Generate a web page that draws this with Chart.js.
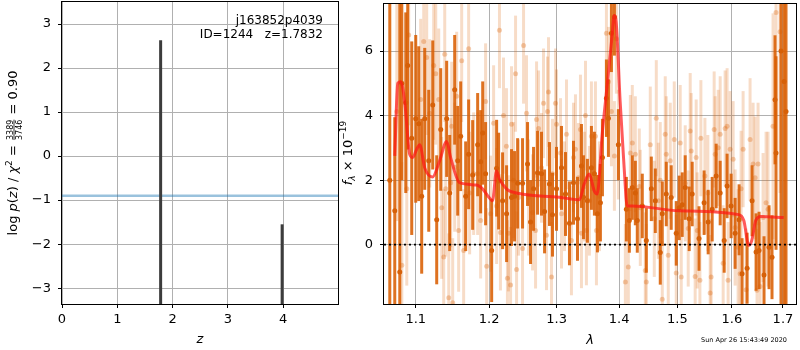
<!DOCTYPE html>
<html>
<head>
<meta charset="utf-8">
<script src="https://cdn.jsdelivr.net/npm/chart.js@4"></script>
<style>
  html, body { margin:0; padding:0; background:#fff; }
  #wrap { position:relative; width:800px; height:350px; }
  canvas { position:absolute; top:0; }
  #pz { left:0; }
  #sp { left:330px; }
</style>
</head>
<body>
<div id="wrap">
  <canvas id="pz" width="345" height="350"></canvas>
  <canvas id="sp" width="470" height="350"></canvas>
</div>
<script>
/* =============================================================
   p(z) panel + 1D spectrum panel
   ============================================================= */

/* ── p(z) DATA ─────────────────────────────────────────────── */
const pzRedshift = [1.7832, 3.98];
const pzLogP     = [2.63, -1.55];
const chi2Level  = -0.9;
const pzTicksX   = [0, 1, 2, 3, 4];
const pzTicksY   = [-3, -2, -1, 0, 1, 2, 3];

/* ── SPECTRUM DATA (micron, 1e-19 flux) ────────────────────── */
// strong grism points
const darkWave = [
  1.0667,1.0730,1.0794,1.0820,1.0871,1.0896,1.0948,1.1000,1.1039,1.1078,
  1.1118,1.1171,1.1224,1.1277,1.1331,1.1411,1.1452,1.1520,1.1561,1.1602,
  1.1671,1.1712,1.1768,1.1838,1.1880,1.1909,1.1950,1.2036,1.2107,1.2136,
  1.2193,1.2251,1.2323,1.2367,1.2412,1.2485,1.2559,1.2604,1.2649,1.2709,
  1.2769,1.2815,1.2890,1.2936,1.2998,1.3075,1.3137,1.3199,1.3262,1.3325,
  1.3388,1.3420,1.3483,1.3547,1.3595,1.3644,1.3692,1.3725,1.3790,1.3823,
  1.3872,1.3921,1.3987,1.4120,1.4170,1.4220,1.4271,1.4304,1.4389,1.4458,
  1.4544,1.4613,1.4699,1.4734,1.4804,1.4891,1.4980,1.5033,1.5087,1.5140,
  1.5212,1.5266,1.5390,1.5483,1.5558,1.5632,1.5706,1.5781,1.5856,1.5911,
  1.5987,1.6063,1.6139,1.6196,1.6293,1.6389,1.6467,1.6525,1.6623,1.6722,
  1.6781,1.6841,1.6861,1.6961,1.7022,1.7062
];
const darkFlux = [
  2.0,1.05,-0.85,5.0,4.4,5.55,3.3,3.9,3.75,1.5,
  3.9,2.6,4.33,0.77,3.57,3.9,1.6,4.8,2.6,3.36,
  1.5,2.8,2.16,3.1,2.57,3.46,2.2,-0.18,2.37,1.97,
  1.36,0.96,1.46,1.5,1.9,1.9,2.5,0.7,1.73,2.23,
  2.2,1.03,1.88,0.93,1.73,2.38,1.57,0.66,1.92,0.8,
  2.44,1.47,1.36,2.38,2.2,0.96,1.3,2.7,4.54,3.92,
  6.55,7.06,3.1,1.1,0.75,1.77,1.6,0.75,1.2,0.13,
  1.73,1.36,-0.24,0.96,1.57,1.46,0.35,1.14,1.24,1.77,
  0.8,1.57,0.19,1.3,0.7,1.1,2.13,1.6,0.13,1.82,
  1.2,0.35,0.77,-0.9,-0.73,1.36,-0.23,-0.18,-0.94,-0.08,
  -0.39,4.49,2.84,6.0,5.06,4.13
];
const darkErr = [
  10,2.9,9,3.0,2.8,2.6,3.0,2.6,2.4,2.4,
  2.2,2.2,2.0,2.0,1.9,1.8,1.8,1.7,1.7,1.7,
  1.7,1.7,1.7,1.6,1.6,1.6,1.6,1.6,1.5,1.5,
  1.5,1.5,1.5,1.4,1.4,1.4,1.3,1.3,1.3,1.3,
  1.3,1.3,1.3,1.3,1.3,1.3,1.3,1.3,1.3,1.3,
  1.3,1.3,1.3,1.3,1.3,1.2,1.2,1.2,1.2,1.2,
  1.2,1.2,1.1,1.0,1.0,1.0,1.0,1.0,1.0,1.0,
  1.0,1.0,1.0,1.0,1.0,1.0,1.0,1.0,1.0,1.0,
  1.0,1.0,1.0,1.0,1.0,1.0,1.0,1.0,1.0,1.0,
  1.0,1.1,1.1,1.1,1.1,1.1,1.2,1.2,1.2,1.3,
  1.3,2.0,3.0,8,10,6
];

// weak grism points
const lightWave = [
  1.0756,1.0820,1.0884,1.0909,1.1065,1.1105,1.1144,1.1184,1.1237,1.1264,
  1.1304,1.1344,1.1371,1.1385,1.1398,1.1439,1.1466,1.1479,1.1493,1.1520,
  1.1547,1.1574,1.1616,1.1643,1.1712,1.1726,1.1782,1.1838,1.1880,1.1950,
  1.1965,1.2021,1.2064,1.2107,1.2148,1.2162,1.2206,1.2249,1.2263,1.2278,
  1.2309,1.2323,1.2353,1.2382,1.2397,1.2426,1.2485,1.2500,1.2544,1.2574,
  1.2634,1.2679,1.2694,1.2724,1.2769,1.2799,1.2845,1.2860,1.2875,1.2921,
  1.2936,1.2982,1.2998,1.3060,1.3075,1.3122,1.3153,1.3230,1.3262,1.3293,
  1.3340,1.3372,1.3388,1.3436,1.3452,1.3467,1.3515,1.3547,1.3612,1.3628,
  1.3676,1.3790,1.3823,1.3872,1.3921,1.3954,1.3987,1.4103,1.4153,1.4187,
  1.4220,1.4271,1.4338,1.4355,1.4440,1.4458,1.4526,1.4595,1.4630,1.4665,
  1.4699,1.4734,1.4786,1.4804,1.4839,1.4874,1.4945,1.4980,1.5051,1.5069,
  1.5140,1.5194,1.5230,1.5248,1.5320,1.5338,1.5357,1.5406,1.5424,1.5498,
  1.5552,1.5595,1.5613,1.5669,1.5688,1.5744,1.5781,1.5837,1.5874,1.5911,
  1.5930,1.5968,1.6025,1.6063,1.6120,1.6158,1.6177,1.6216,1.6273,1.6350,
  1.6409,1.6448,1.6486,1.6506,1.6545,1.6604,1.6663,1.6702,1.6801,1.6861,
  1.6941
];
const lightFlux = [
  4.13,-0.64,1.73,6.5,4.5,6.3,5.8,4.07,5.55,5.3,
  4.5,1.14,-0.38,5.9,1.73,-1.65,1.92,3.67,-1.8,2.4,
  4.6,0.44,5.7,-0.18,6.07,1.6,2.2,2.2,0.75,4.44,
  -0.67,0.96,3.76,1.2,6.65,0.38,4.0,3.05,-1.04,0.35,
  -1.25,3.73,2.0,5.3,-0.77,1.46,-0.12,6.17,4.07,1.46,
  1.0,0.44,3.88,3.6,2.38,4.38,0.29,4.13,4.73,-1.0,
  2.2,4.38,3.73,2.84,0.96,1.5,3.42,0.13,2.7,2.96,
  2.07,3.57,0.35,1.8,4.0,0.44,1.36,3.36,3.36,0.44,
  1.5,6.55,5.05,4.13,2.75,6.38,3.1,-1.16,-0.69,2.84,
  3.15,2.8,1.8,1.14,-0.8,-1.16,3.1,0.8,3.92,1.36,
  2.0,-1.69,3.42,2.8,-0.33,2.6,3.26,-0.88,3.15,-1.0,
  1.9,0.5,3.52,2.9,-0.99,2.7,0.44,-1.1,3.3,2.13,
  1.6,-1.5,-1.0,3.57,2.8,3.0,3.42,-0.58,3.6,3.67,
  -1.1,2.96,2.65,0.53,-0.08,-0.9,1.73,2.96,-1.4,3.26,
  2.5,2.07,-1.41,2.5,-1.3,0.84,1.3,1.1,3.67,7.2,
  6.6
];
const lightErr = [
  3.4,3.2,3.0,2.8,2.5,2.4,2.4,2.3,2.3,2.2,
  2.2,2.2,2.1,2.1,2.1,2.0,2.0,2.0,2.0,2.0,
  2.0,1.9,1.9,1.9,1.9,1.9,1.9,1.9,1.8,1.8,
  1.8,1.8,1.8,1.8,1.8,1.8,1.8,1.8,1.8,1.8,
  1.8,1.8,1.8,1.8,1.8,1.8,1.8,1.8,1.8,1.8,
  1.8,1.8,1.8,1.8,1.7,1.7,1.7,1.7,1.7,1.7,
  1.7,1.7,1.7,1.7,1.7,1.7,1.7,1.7,1.7,1.7,
  1.7,1.7,1.7,1.7,1.7,1.7,1.7,1.7,1.7,1.7,
  1.7,1.7,1.7,1.7,1.7,1.7,1.7,1.8,1.8,1.8,
  1.8,1.8,1.8,1.8,1.8,1.8,1.8,1.8,1.8,1.8,
  1.8,1.8,1.8,1.8,1.8,1.8,1.8,1.8,1.8,1.8,
  1.8,1.8,1.8,1.8,1.8,1.8,1.8,1.8,1.8,1.8,
  1.8,1.8,1.8,1.8,1.8,1.8,1.8,1.8,1.8,1.8,
  1.8,1.8,1.8,1.8,1.8,1.8,1.8,1.8,1.9,1.9,
  1.9,1.9,1.9,1.9,2.0,2.0,2.2,2.4,3.5,4.5,
  5.0
];

// best-fit model
const modelWave = [
  1.0730,1.0768,1.0807,1.0858,1.0922,1.0961,1.1013,1.1052,1.1118,1.1223,
  1.1316,1.1411,1.1465,1.1587,1.1822,1.1907,1.2000,1.2048,1.2105,1.2148,
  1.2249,1.2322,1.3044,1.3353,1.3432,1.3512,1.3592,1.3640,1.3721,1.3803,
  1.3884,1.3917,1.3950,1.4016,1.4083,1.4133,1.4216,1.5033,1.6133,1.6229,
  1.6325,1.6383,1.6461,1.6558,1.7015
];
const modelFlux = [
  2.75,5.0,5.05,4.4,2.8,2.7,2.96,3.1,2.38,2.1,
  2.6,3.2,2.7,1.92,1.85,1.73,1.46,1.36,2.28,2.03,
  1.73,1.64,1.47,1.39,1.88,2.19,1.67,1.57,3.42,4.96,
  6.5,7.1,6.9,4.44,2.38,1.2,1.2,1.05,0.93,0.75,
  -0.02,0.13,0.75,0.87,0.84
];

const specTicksX = [1.1, 1.2, 1.3, 1.4, 1.5, 1.6, 1.7];
const specTicksY = [0, 2, 4, 6];

/* ── AXIS LIMITS ───────────────────────────────────────────── */
const PZ_X = [0, 4.99],        PZ_Y = [-3.36, 3.5];
const SP_X = [1.0594, 1.7265], SP_Y = [-1.84, 7.46];

/* ── COMMON STYLE ──────────────────────────────────────────── */
const FONT = '"DejaVu Sans", sans-serif';
const ORANGE_DARK  = 'rgba(217,95,2,0.88)';
const ORANGE_LIGHT = 'rgba(217,95,2,0.22)';

const fmtTick = v => (v < 0 ? '\u2212' + Math.abs(v) : String(v));

function axis(lo, hi, ticks, fitKey, fitVal, fmt, pad, type) {
  return {
    type: type || 'linear', min: lo, max: hi, offset: false,
    afterBuildTicks: s => { s.ticks = ticks.map(v => ({ value: v })); },
    afterFit: s => {
      s[fitKey] = fitVal;
      s.paddingTop = 0; s.paddingBottom = 0; s.paddingLeft = 0; s.paddingRight = 0;
    },
    grid:   { color:'#b0b0b0', lineWidth:1, tickColor:'#000', tickLength:4, tickWidth:1, offset:false },
    border: { display:false },
    ticks:  { color:'#000', font:{ family:FONT, size:13 }, padding:pad,
              autoSkip:false, maxRotation:0, callback: v => fmt(v) },
  };
}

// draws text runs along a vertical baseline (rotated -90deg)
function runWidth(ctx, r) {
  ctx.font = r.font;
  if (r.num) return Math.max(ctx.measureText(r.num).width, ctx.measureText(r.den).width) + 2;
  return ctx.measureText(r.t).width;
}
function drawRuns(ctx, runs, x, y) {
  ctx.save();
  ctx.translate(x, y);
  ctx.rotate(-Math.PI / 2);
  ctx.fillStyle = '#000';
  ctx.textBaseline = 'alphabetic';
  const total = runs.reduce((s, r) => s + runWidth(ctx, r), 0);
  let p = -total / 2;
  runs.forEach(r => {
    const w = runWidth(ctx, r);
    ctx.font = r.font;
    if (r.num) {
      ctx.textAlign = 'center';
      ctx.fillText(r.num, p + w / 2, -4.5);
      ctx.fillText(r.den, p + w / 2, 4.5);
      ctx.fillRect(p + 1, -3.4, w - 2, 0.8);
    } else {
      ctx.textAlign = 'left';
      ctx.fillText(r.t, p, r.dy || 0);
    }
    p += w;
  });
  ctx.restore();
}

function frame(ctx, a) {
  ctx.save();
  ctx.strokeStyle = '#000';
  ctx.lineWidth = 1;
  ctx.strokeRect(Math.round(a.left) - 0.5, Math.round(a.top) - 0.5,
                 Math.round(a.right - a.left) + 1, Math.round(a.bottom - a.top) + 1);
  ctx.restore();
}

const N13 = '13px ' + FONT, I13 = 'italic 13px ' + FONT;

/* ── p(z) CHART ────────────────────────────────────────────── */
const pzDecor = {
  id: 'pzDecor',
  afterDraw(chart) {
    const ctx = chart.ctx, a = chart.chartArea;
    frame(ctx, a);
    ctx.save();
    ctx.fillStyle = '#000';
    ctx.textAlign = 'right';
    ctx.textBaseline = 'alphabetic';
    ctx.font = '12px ' + FONT;
    ctx.fillText('j163852p4039', 323, 24);
    ctx.fillText('ID=1244   z=1.7832', 323, 38);
    ctx.textAlign = 'center';
    ctx.textBaseline = 'middle';
    ctx.font = I13;
    ctx.fillText('z', (a.left + a.right) / 2, 340);
    ctx.restore();
    drawRuns(ctx, [
      { t:'log ', font:N13 }, { t:'p', font:I13 }, { t:'(', font:N13 }, { t:'z', font:I13 },
      { t:') / ', font:N13 }, { t:'\u03c7', font:I13 }, { t:'2', font:'9px ' + FONT, dy:-5 },
      { t:' = ', font:N13 }, { num:'3389', den:'3746', font:'8px ' + FONT },
      { t:' = 0.90', font:N13 },
    ], 17, 153);
  }
};

new Chart(document.getElementById('pz'), {
  type: 'scatter',
  data: {
    datasets: [
      {
        type: 'bar',
        data: pzRedshift.map((z, i) => ({ x: z, y: pzLogP[i] })),
        base: PZ_Y[0],
        backgroundColor: '#3c3c3c',
        barThickness: 3, borderWidth: 0, inflateAmount: 0, clip: 0,
        order: 0,
      },
      {
        type: 'line',
        data: [{ x: PZ_X[0], y: chi2Level }, { x: PZ_X[1], y: chi2Level }],
        borderColor: 'rgba(31,119,180,0.45)', borderWidth: 2.5,
        pointRadius: 0, order: 1,
      },
    ],
  },
  options: {
    responsive: false, animation: false, events: [],
    layout: { padding: { left:0, right:7, top:2, bottom:0 } },
    plugins: { legend: { display:false }, tooltip: { enabled:false } },
    scales: {
      x: axis(PZ_X[0], PZ_X[1], pzTicksX, 'height', 46, fmtTick, 4),
      y: axis(PZ_Y[0], PZ_Y[1], pzTicksY, 'width', 62, fmtTick, 7),
    },
  },
  plugins: [pzDecor],
});

/* ── SPECTRUM CHART ────────────────────────────────────────── */
const SP_LEFT = 330;   // canvas offset on the page

const specDecor = {
  id: 'specDecor',
  afterDraw(chart) {
    const ctx = chart.ctx, a = chart.chartArea;
    frame(ctx, a);
    ctx.save();
    ctx.fillStyle = '#000';
    ctx.textAlign = 'center';
    ctx.textBaseline = 'middle';
    ctx.font = I13;
    ctx.fillText('\u03bb', (a.left + a.right) / 2, 341);
    ctx.textAlign = 'right';
    ctx.font = '6.5px ' + FONT;
    ctx.fillText('Sun Apr 26 15:43:49 2020', 787 - SP_LEFT, 340);
    ctx.restore();
    drawRuns(ctx, [
      { t:'f', font:I13 }, { t:'\u03bb', font:'italic 9px ' + FONT, dy:3 },
      { t:' \u00d7 10', font:N13 }, { t:'\u221219', font:'9px ' + FONT, dy:-6 },
    ], 351.5 - SP_LEFT, 153);
  }
};

const nLight = lightWave.length;
const errBars = lightWave.map((w, i) => ({ x: w, y: [lightFlux[i] - lightErr[i], lightFlux[i] + lightErr[i]] }))
  .concat(darkWave.map((w, i) => ({ x: w, y: [darkFlux[i] - darkErr[i], darkFlux[i] + darkErr[i]] })));

new Chart(document.getElementById('sp'), {
  type: 'scatter',
  data: {
    datasets: [
      {
        type: 'line',
        data: [{ x: SP_X[0], y: 0 }, { x: SP_X[1], y: 0 }],
        borderColor: '#000', borderWidth: 1.6, borderDash: [2, 3],
        pointRadius: 0, order: 0,
      },
      {
        type: 'line',
        data: modelWave.map((w, i) => ({ x: w, y: modelFlux[i] })),
        borderColor: 'rgba(255,20,20,0.7)', borderWidth: 3,
        pointRadius: 0, cubicInterpolationMode: 'monotone', order: 1,
      },
      {
        data: darkWave.map((w, i) => ({ x: w, y: darkFlux[i] })),
        backgroundColor: 'rgb(214,96,8)', borderWidth: 0,
        pointRadius: 2.5, order: 2,
      },
      {
        type: 'bar',
        data: errBars,
        backgroundColor: c => (c.dataIndex < nLight ? ORANGE_LIGHT : ORANGE_DARK),
        barThickness: 3, borderWidth: 0, inflateAmount: 0, clip: 0,
        order: 3,
      },
      {
        data: lightWave.map((w, i) => ({ x: w, y: lightFlux[i] })),
        backgroundColor: 'rgba(217,95,2,0.3)', borderWidth: 0,
        pointRadius: 2.5, order: 4,
      },
    ],
  },
  options: {
    responsive: false, animation: false, events: [],
    layout: { padding: { left:0, right:2, top:2, bottom:0 } },
    plugins: { legend: { display:false }, tooltip: { enabled:false } },
    scales: {
      x: axis(SP_X[0], SP_X[1], specTicksX, 'height', 46, v => Number(v).toFixed(1), 4, 'logarithmic'),
      y: Object.assign(axis(SP_Y[0], SP_Y[1], specTicksY, 'width', 384 - SP_LEFT, fmtTick, 7), { stacked:false }),
    },
  },
  plugins: [specDecor],
});
</script>
</body>
</html>
